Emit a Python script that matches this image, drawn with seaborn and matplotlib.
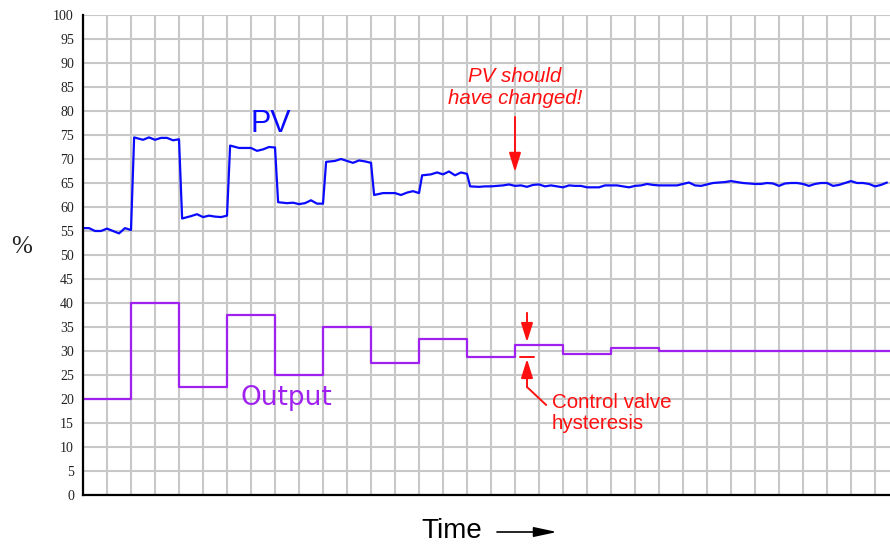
import numpy as np
import pandas as pd
import matplotlib
matplotlib.use("Agg")
import matplotlib.pyplot as plt
import seaborn as sns

# Controller output (%) held between step changes, time in grid units
out_time = [0, 2, 4, 6, 8, 10, 12, 14, 16, 18, 20, 22, 24, 33.625]
out_value = [20, 40, 22.5, 37.5, 25, 35, 27.5, 32.5, 28.75, 31.25, 29.375, 30.625, 30, 30]

# Process variable (%) sampled every quarter time unit
pv_step = 0.25
pv_value = [
    55.6, 55.6, 55.0, 55.0, 55.5, 55.0, 54.5, 55.6, 55.2,
    74.5, 74.0, 74.5, 74.0, 74.4, 74.4, 73.9, 74.1,
    57.6, 58.1, 58.5, 57.9, 58.2, 58.0, 57.9, 58.2,
    72.8, 72.3, 72.3, 72.3, 71.7, 72.0, 72.5, 72.4,
    61.0, 60.8, 60.9, 60.6, 60.8, 61.4, 60.7, 60.7,
    69.4, 69.6, 70.0, 69.6, 69.2, 69.7, 69.5, 69.2,
    62.5, 62.9, 62.9, 62.9, 62.5, 63.0, 63.3, 62.9,
    66.6, 66.8, 67.2, 66.8, 67.4, 66.6, 67.2, 66.9,
    64.3, 64.2, 64.3, 64.3, 64.4, 64.5, 64.7, 64.4,
    64.5, 64.2, 64.6, 64.7, 64.3, 64.5, 64.3, 64.1,
    64.5, 64.4, 64.4, 64.1, 64.1, 64.1, 64.5, 64.5,
    64.5, 64.3, 64.1, 64.4, 64.5, 64.8, 64.6, 64.5,
    64.5, 64.5, 64.5, 64.8, 65.1, 64.5, 64.4, 64.7,
    65.0, 65.1, 65.2, 65.4, 65.2, 65.0, 64.9, 64.8,
    64.8, 65.0, 64.9, 64.4, 64.9, 65.0, 65.0, 64.8,
    64.4, 64.8, 65.0, 65.0, 64.4, 64.6, 65.0, 65.4,
    65.0, 65.0, 64.8, 64.3, 64.6, 65.1,
]
pv_time = np.arange(len(pv_value)) * pv_step
# the PV responds almost at once to each output step: the first sample
# after a step is taken just after the step itself
for t_step in out_time[1:9]:
    first = int(round(t_step / pv_step)) + 1
    pv_time[first] = t_step + 0.13

y_ticks = list(range(0, 101, 5))

BLUE = "#0a0aff"
PURPLE = "#a020f0"
RED = "#ff1010"
GRID = "#c8c8c8"

sns.set_theme(style="white")
plt.rcParams["font.family"] = ["Liberation Sans", "DejaVu Sans"]

fig = plt.figure(figsize=(8.9, 5.44), dpi=100)
ax = fig.add_axes([83 / 890, 49 / 544, 807 / 890, 480 / 544])

pv_df = pd.DataFrame({"time": pv_time, "pv": pv_value})
out_df = pd.DataFrame({"time": out_time, "output": out_value})

sns.lineplot(data=pv_df, x="time", y="pv", ax=ax, color=BLUE, lw=1.6,
             estimator=None, zorder=4)
sns.lineplot(data=out_df, x="time", y="output", ax=ax, color=PURPLE, lw=1.6,
             drawstyle="steps-post", estimator=None, zorder=4)

ax.set_xlim(0, 33.625)
ax.set_ylim(0, 100)
ax.set_xticks(np.arange(0, 34, 1))
ax.set_xticklabels([])
ax.set_yticks(y_ticks)
ax.set_yticklabels([str(v) for v in y_ticks], family="Liberation Serif",
                   fontsize=10, color="#222222")
ax.tick_params(axis="both", length=0)
ax.tick_params(axis="y", pad=6.5)
ax.grid(True, color=GRID, lw=1.5, zorder=0)
ax.set_axisbelow(True)
ax.set_xlabel("")
ax.set_ylabel("")
for side in ("top", "right"):
    ax.spines[side].set_visible(False)
for side in ("left", "bottom"):
    ax.spines[side].set_color("black")
    ax.spines[side].set_linewidth(1.6)
    ax.spines[side].set_zorder(5)

# Series labels
ax.text(7.83, 77.3, "PV", color=BLUE, fontsize=22, ha="center", va="center")
ax.text(8.46, 20.2, "Output", color=PURPLE, fontsize=19, ha="center",
        va="center", family="DejaVu Sans")

# PV should have changed
ax.text(18.0, 85.0, "PV should\nhave changed!", color=RED, fontsize=14.8,
        style="italic", ha="center", va="center", linespacing=1.2)
head = dict(arrowstyle="-|>,head_length=1.15,head_width=0.36", color=RED,
            lw=1.4, mutation_scale=10, shrinkA=0, shrinkB=0)
ax.annotate("", xy=(18.0, 67.3), xytext=(18.0, 78.75), arrowprops=head)

# Control valve hysteresis
hx = 18.5
ax.annotate("", xy=(hx, out_value[9] + 0.6), xytext=(hx, out_value[9] + 6.7),
            arrowprops=head)
ax.plot([hx - 0.28, hx + 0.28], [out_value[8], out_value[8]], color=RED, lw=1.4,
        zorder=5)
ax.annotate("", xy=(hx, out_value[8] - 0.4), xytext=(hx, 22.5), arrowprops=head)
ax.plot([hx, 19.3], [22.5, 18.75], color=RED, lw=1.4, zorder=5)
ax.text(19.54, 17.1, "Control valve\nhysteresis", color=RED, fontsize=14.8,
        ha="left", va="center", linespacing=1.15)

# Axis captions
fig.text(22 / 890, 1 - 247 / 544, "%", family="Liberation Serif", fontsize=18,
         ha="center", va="center", color="#222222")
fig.text(452 / 890, 1 - 531 / 544, "Time", fontsize=20, ha="center",
         va="center", color="black")
fig.add_artist(matplotlib.patches.FancyArrowPatch(
    (497 / 890, 1 - 532 / 544), (557 / 890, 1 - 532 / 544),
    transform=fig.transFigure,
    arrowstyle="-|>,head_length=1.4,head_width=0.3", mutation_scale=10,
    color="black", lw=1.2, shrinkA=0, shrinkB=0))

fig.savefig("out.png", dpi=100, facecolor="white")
